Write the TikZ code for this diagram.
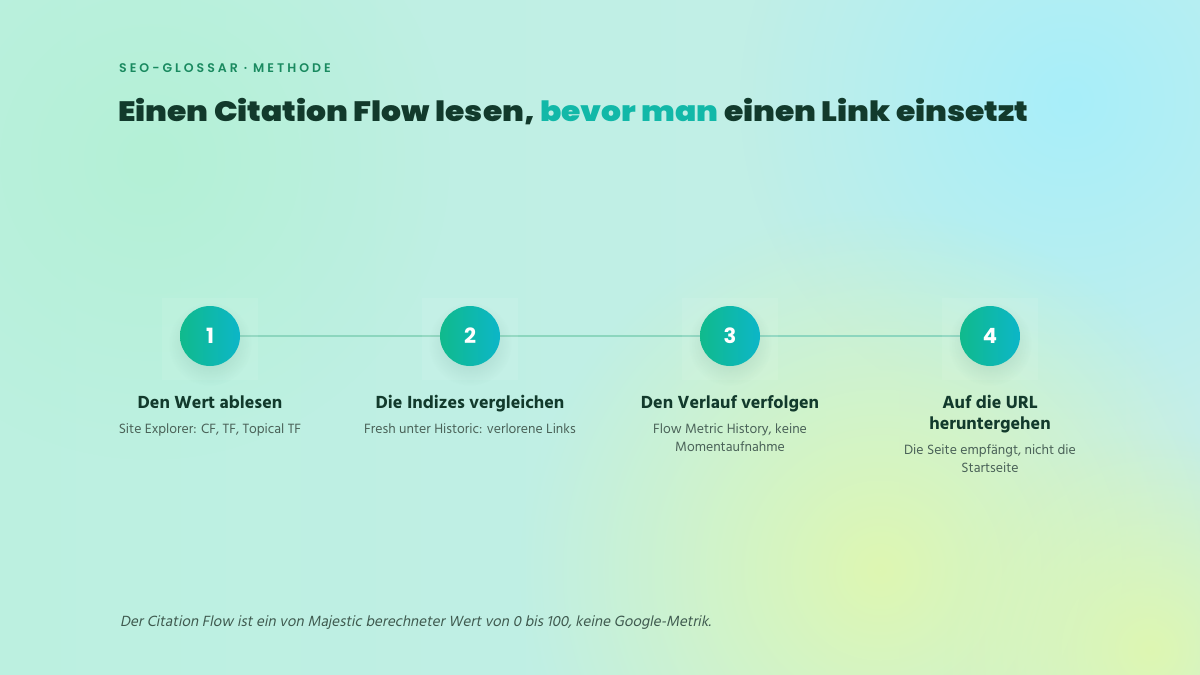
\documentclass[tikz,border=0pt]{standalone}
\usepackage{fontspec}
\setmainfont{Hind Madurai}
\newfontfamily\titlefont{Poppins}[UprightFont=* Black]
\newfontfamily\numfont{Poppins}[UprightFont=* Bold]
\newfontfamily\eyefont{Poppins}[UprightFont=* SemiBold, LetterSpace=24]
\newfontfamily\stepfont{Hind Madurai}[UprightFont=* Bold]
\newfontfamily\footfont{Hind Madurai}[FakeSlant=0.2]
\usetikzlibrary{fadings,backgrounds}
\definecolor{ink}{RGB}{18,58,44}
\definecolor{teal}{RGB}{18,184,168}
\definecolor{eye}{RGB}{26,138,96}
\definecolor{desc}{RGB}{74,98,88}
\definecolor{linec}{RGB}{140,214,190}
\definecolor{cA}{RGB}{16,186,140}
\definecolor{cB}{RGB}{12,182,200}
\definecolor{baseL}{RGB}{188,240,224}
\definecolor{baseR}{RGB}{196,238,234}
\definecolor{glowC}{RGB}{168,238,250}
\definecolor{glowY}{RGB}{222,247,178}
\definecolor{glowM}{RGB}{180,241,214}
\tikzfading[name=glow, inner color=transparent!0, outer color=transparent!100]
\pgfdeclarelayer{bg}
\pgfsetlayers{bg,background,main}
\tikzset{
  stepcircle/.style={circle, minimum size=60pt, inner sep=0pt, shading angle=135, left color=cA, right color=cB, text=white, font=\numfont\fontsize{21}{21}\selectfont},
  steptitle/.style={align=center, text=ink, font=\stepfont\fontsize{18}{21}\selectfont, inner sep=0pt},
  stepdesc/.style={align=center, text=desc, font=\fontsize{13.8}{18}\selectfont, inner sep=0pt},
  conn/.style={draw=linec, line width=2pt},
  colbox/.style={fill=white, fill opacity=0.08}
}
\begin{document}
\begin{tikzpicture}[x=1pt,y=-1pt]
\useasboundingbox (0,0) rectangle (1200,675);
\begin{pgfonlayer}{bg}
  \shade[left color=baseL, right color=baseR] (0,0) rectangle (1200,675);
  \fill[glowM, path fading=glow] (150,160) circle (300);
  \fill[glowC, path fading=glow] (1070,100) circle (330);
  \fill[glowY, path fading=glow] (880,570) circle (360);
  \fill[glowY, path fading=glow] (1150,650) circle (220);
\end{pgfonlayer}
% eyebrow and title
\node[anchor=base west, inner sep=0pt, text=eye, font=\eyefont\fontsize{12.5}{13}\selectfont] (eyebrow) at (119,72) {SEO-GLOSSAR · METHODE};
\node[anchor=base west, inner sep=0pt, text=ink, font=\titlefont\fontsize{28}{30}\selectfont] (title) at (118,121) {\scalebox{1.12}[1]{Einen Citation Flow lesen, \textcolor{teal}{bevor man} einen Link einsetzt}};
% column boxes
\foreach \x in {210,470,730,990} {
  \fill[colbox] (\x-48,298) rectangle (\x+48,380);
}
% circles
\foreach \i/\x in {1/210,2/470,3/730,4/990} {
  \fill[black!60!cA, opacity=0.18, path fading=glow] (\x,344) circle (42);
  \node[stepcircle] (s\i) at (\x,336) {\i};
}
\begin{scope}[on background layer]
  \draw[conn] (s1) -- (s2);
  \draw[conn] (s2) -- (s3);
  \draw[conn] (s3) -- (s4);
\end{scope}
% titles
\node[steptitle, anchor=base] (t1) at (210,408) {Den Wert ablesen};
\node[steptitle, anchor=base] (t2) at (470,408) {Die Indizes vergleichen};
\node[steptitle, anchor=base] (t3) at (730,408) {Den Verlauf verfolgen};
\node[steptitle, anchor=base] (t4) at (990,429) {Auf die URL\\heruntergehen};
% descriptions
\node[stepdesc, anchor=base] (d1) at (210,433) {Site Explorer: CF, TF, Topical TF};
\node[stepdesc, anchor=base] (d2) at (470,433) {Fresh unter Historic: verlorene Links};
\node[stepdesc, anchor=base] (d3) at (730,451) {Flow Metric History, keine\\Momentaufnahme};
\node[stepdesc, anchor=base] (d4) at (990,472) {Die Seite empfängt, nicht die\\Startseite};
% footer
\node[anchor=base west, inner sep=0pt, text=desc!80!ink, font=\footfont\fontsize{15.15}{16}\selectfont] (foot) at (120,626) {Der Citation Flow ist ein von Majestic berechneter Wert von 0 bis 100, keine Google-Metrik.};
\end{tikzpicture}
\end{document}
